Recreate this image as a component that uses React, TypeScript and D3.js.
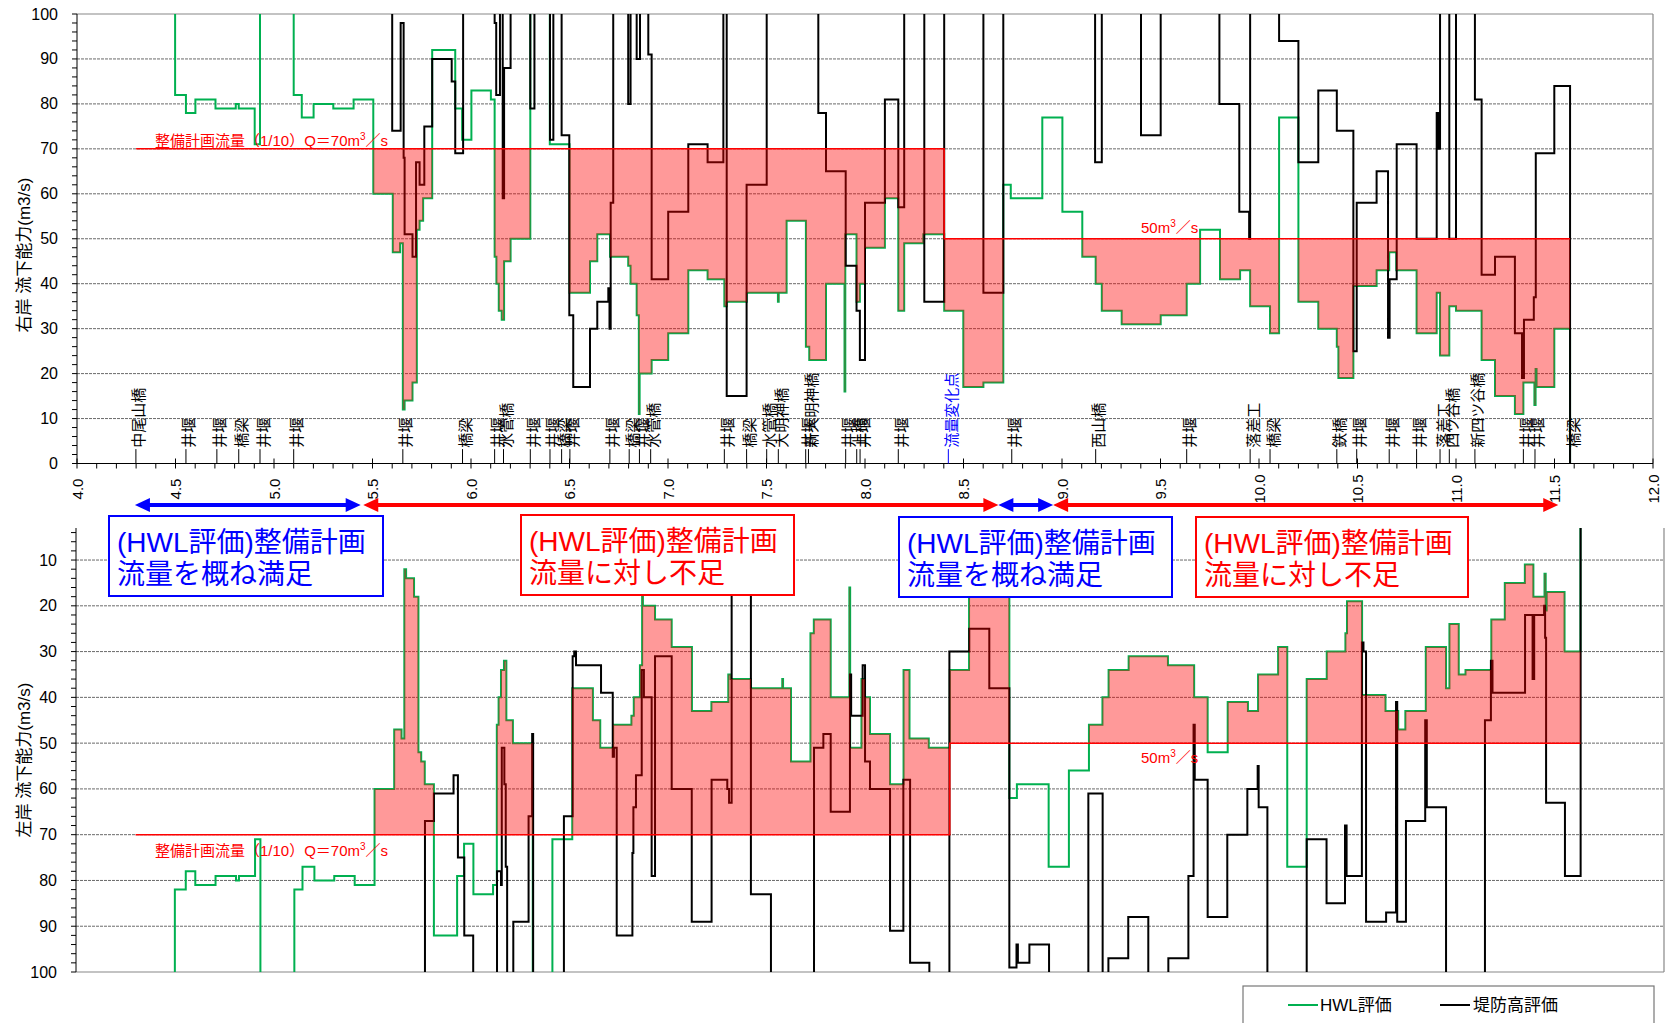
import React from "react";
import * as d3 from "d3";

// step series: [km, value] ; value holds until the next km. 130 = off the chart
type Step = [number, number];

const hwl: Step[] = [
  [4.497, 130], [4.498, 82], [4.553, 78], [4.601, 81], [4.703, 79], [4.806, 80], [4.821, 79],
  [4.902, 71], [4.929, 130], [5.1, 82], [5.141, 77], [5.201, 80], [5.301, 79], [5.404, 81],
  [5.504, 60], [5.603, 47], [5.64, 49], [5.654, 12], [5.663, 14], [5.703, 18], [5.725, 52],
  [5.739, 54], [5.757, 59], [5.803, 92], [5.92, 79], [5.955, 72], [6.002, 83], [6.101, 81],
  [6.12, 46], [6.129, 40], [6.141, 34], [6.156, 32], [6.168, 45], [6.201, 50], [6.301, 130],
  [6.4, 71], [6.5, 38], [6.604, 45], [6.641, 51], [6.706, 46], [6.798, 44], [6.81, 40],
  [6.841, 33], [6.852, 11], [6.856, 20], [6.917, 23], [7.001, 29], [7.103, 43], [7.201, 41],
  [7.286, 35], [7.298, 36], [7.4, 38], [7.558, 36], [7.562, 38], [7.602, 54], [7.7, 26],
  [7.717, 23], [7.802, 40], [7.896, 16], [7.9, 51], [7.957, 36], [7.974, 40], [8.0, 48],
  [8.101, 59], [8.169, 34], [8.199, 49], [8.296, 51], [8.402, 34], [8.499, 17], [8.601, 18],
  [8.702, 62], [8.74, 59], [8.9, 77], [9.002, 56], [9.103, 46], [9.171, 40], [9.202, 34],
  [9.303, 31], [9.501, 33], [9.633, 40], [9.701, 52], [9.802, 41], [9.904, 43], [9.955, 35],
  [10.056, 29], [10.102, 77], [10.2, 36], [10.301, 30], [10.395, 26], [10.403, 19],
  [10.479, 39.5], [10.597, 43], [10.661, 47], [10.697, 43], [10.8, 29], [10.902, 38],
  [10.919, 24], [10.966, 35], [11.0, 34], [11.13, 23], [11.198, 15], [11.299, 11],
  [11.342, 18], [11.398, 13], [11.404, 21], [11.409, 17], [11.499, 30], [11.579, 0],
];

// 右岸 堤防高評価
const rightLevee: Step[] = [
  [5.599, 130], [5.6, 74], [5.643, 98], [5.658, 68], [5.663, 51], [5.703, 46], [5.721, 67],
  [5.739, 62], [5.763, 75], [5.803, 90], [5.902, 85], [5.92, 69], [5.96, 130], [6.12, 98],
  [6.128, 82], [6.147, 130], [6.161, 59], [6.168, 88], [6.201, 130], [6.301, 79], [6.322, 130],
  [6.401, 72], [6.418, 130], [6.46, 73], [6.499, 33], [6.519, 17], [6.604, 30], [6.641, 36],
  [6.697, 39], [6.703, 30], [6.709, 58], [6.722, 130], [6.798, 80], [6.81, 130], [6.841, 90],
  [6.858, 130], [6.9, 91], [6.917, 41], [7.001, 56], [7.103, 71], [7.201, 67], [7.281, 130],
  [7.298, 15], [7.399, 62], [7.501, 130], [7.763, 78], [7.802, 65], [7.902, 44], [7.957, 34],
  [7.974, 23], [8.0, 58], [8.101, 81], [8.169, 57], [8.199, 130], [8.301, 36], [8.402, 130],
  [8.601, 38], [8.702, 130], [9.168, 67], [9.202, 130], [9.401, 73], [9.501, 130], [9.799, 80],
  [9.9, 56], [9.95, 50], [9.955, 130], [10.102, 94], [10.2, 67], [10.301, 83], [10.395, 74],
  [10.479, 25], [10.496, 58], [10.597, 65], [10.655, 28], [10.663, 41], [10.699, 71],
  [10.8, 50], [10.902, 78], [10.912, 70], [10.919, 130], [10.966, 50], [11.0, 130],
  [11.096, 81], [11.13, 42], [11.198, 46], [11.299, 29], [11.335, 19], [11.345, 32],
  [11.395, 37], [11.405, 69], [11.499, 84], [11.579, 0],
];

// 左岸 堤防高評価
const leftLevee: Step[] = [
  [5.757, 130], [5.758, 67], [5.803, 61], [5.902, 57], [5.924, 75], [5.956, 92], [6.001, 130],
  [6.121, 78], [6.141, 81], [6.145, 51], [6.158, 59], [6.165, 77], [6.172, 130], [6.203, 89],
  [6.28, 66], [6.298, 48], [6.303, 130], [6.458, 66], [6.502, 31], [6.51, 30], [6.519, 33],
  [6.645, 39], [6.704, 53], [6.71, 51], [6.724, 92], [6.803, 74], [6.808, 64], [6.821, 57],
  [6.85, 34], [6.861, 40], [6.9, 79], [6.917, 31], [7.001, 60], [7.102, 89], [7.202, 58],
  [7.281, 60], [7.29, 63], [7.303, 0], [7.4, 83], [7.501, 130], [7.718, 51], [7.765, 48],
  [7.802, 65], [7.899, 35], [7.905, 44], [7.963, 33], [7.975, 54], [8.0, 60], [8.101, 91],
  [8.168, 58], [8.202, 98], [8.299, 130], [8.4, 30], [8.5, 25], [8.601, 38], [8.702, 99],
  [8.738, 94], [8.745, 98], [8.803, 94], [8.902, 130], [9.1, 61], [9.172, 130], [9.201, 97],
  [9.301, 88], [9.402, 130], [9.503, 97], [9.604, 79], [9.63, 46], [9.636, 58], [9.701, 88],
  [9.8, 70], [9.901, 60], [9.953, 55], [9.958, 64], [10.002, 130], [10.2, 71], [10.3, 85],
  [10.393, 68], [10.401, 79], [10.478, 28], [10.486, 30], [10.499, 89], [10.6, 87],
  [10.65, 41], [10.656, 89], [10.7, 67], [10.797, 45], [10.805, 64], [10.902, 130],
  [11.098, 45], [11.128, 32], [11.136, 39], [11.3, 22], [11.338, 36], [11.346, 22],
  [11.396, 20], [11.401, 27], [11.406, 63], [11.501, 79], [11.58, 0],
];

// 整備計画流量
const planFlow: Step[] = [[4.3, 70], [8.402, 50], [11.579, 50]];

const xTickLabels = ["4.0", "4.5", "5.0", "5.5", "6.0", "6.5", "7.0", "7.5", "8.0", "8.5", "9.0", "9.5", "10.0", "10.5", "11.0", "11.5", "12.0"];
const topYTicks = [0, 10, 20, 30, 40, 50, 60, 70, 80, 90, 100];
const bottomYTicks = [10, 20, 30, 40, 50, 60, 70, 80, 90, 100];

const structures: [number, string][] = [
  [4.299, "中尾山橋"], [4.553, "井堰"], [4.71, "井堰"], [4.821, "橋梁"], [4.929, "井堰"],
  [5.1, "井堰"], [5.654, "井堰"], [5.957, "橋梁"], [6.12, "井堰"], [6.165, "水管橋"],
  [6.301, "井堰"], [6.401, "井堰"], [6.46, "橋梁"], [6.502, "井堰"], [6.705, "井堰"],
  [6.803, "橋梁"], [6.855, "井堰"], [6.912, "水管橋"], [7.286, "井堰"], [7.399, "橋梁"],
  [7.501, "水管橋"], [7.56, "大明神橋"], [7.699, "井堰"], [7.713, "新大明神橋"],
  [7.902, "井堰"], [7.958, "上橋"], [7.975, "井堰"], [8.169, "井堰"], [8.423, "流量変化点"],
  [8.745, "井堰"], [9.171, "西山橋"], [9.633, "井堰"], [9.955, "落差工"], [10.056, "橋梁"],
  [10.395, "鉄橋"], [10.496, "井堰"], [10.661, "井堰"], [10.8, "井堰"], [10.919, "落差工"],
  [10.966, "四ツ谷橋"], [11.096, "新四ツ谷橋"], [11.342, "井堰"], [11.401, "井堰"], [11.579, "橋梁"],
];
const changePoint = "流量変化点";

// evaluation ranges between the panels
const ranges: [number, number, "ok" | "short"][] = [
  [4.294, 5.44, "ok"], [5.453, 8.677, "short"], [8.677, 8.955, "ok"], [8.955, 11.519, "short"],
];

const FONT = "'Liberation Sans', 'Noto Sans CJK JP', sans-serif";
const GREEN = "#00b050";
const BLUE = "#0000ff";
const RED = "#ff0000";

function stepValue(steps: Step[], x: number) {
  let v = steps[0][1];
  for (const [sx, sv] of steps) {
    if (sx <= x) v = sv;
    else break;
  }
  return v;
}

type FillPt = { x: number; t: number; g: number };

function shortfall(): FillPt[] {
  const t0 = planFlow[0][0];
  const t1 = planFlow[planFlow.length - 1][0];
  const xs = Array.from(new Set([...hwl.map((d) => d[0]), ...planFlow.map((d) => d[0])]))
    .filter((x) => x >= t0 && x <= t1)
    .sort((a, b) => a - b);
  return xs.map((x, i) => {
    const t = stepValue(planFlow, x);
    const g = i === xs.length - 1 ? t : Math.min(stepValue(hwl, x), t);
    return { x, t, g };
  });
}

function Panel({ id, x, y, levee, yTicks, minor, bank, labelY, flipLabels }: {
  id: string; x: d3.ScaleLinear<number, number>; y: d3.ScaleLinear<number, number>;
  levee: Step[]; yTicks: number[]; minor: number[]; bank: string; labelY: number; flipLabels: boolean;
}) {
  const [x0, x1] = x.range();
  const [yA, yB] = y.range();
  const top = Math.min(yA, yB);
  const bot = Math.max(yA, yB);
  const line = d3.line<Step>().x((d) => x(d[0])).y((d) => y(d[1])).curve(d3.curveStepAfter);
  const area = d3.area<FillPt>().x((d) => x(d.x)).y0((d) => y(d.t)).y1((d) => y(d.g)).curve(d3.curveStepAfter);
  const fill = shortfall();
  const grid = yTicks.filter((v) => v !== 0 && v !== 100);
  const lbl70 = flipLabels ? y(70) + 21 : y(70) - 3;
  const lbl50 = flipLabels ? y(50) + 20 : y(50) - 6;
  return (
    <g>
      <defs>
        <clipPath id={id}>
          <rect x={x0} y={top} width={x1 - x0} height={bot - top} />
        </clipPath>
      </defs>
      {grid.map((v) => (
        <line key={v} x1={x0} x2={x1} y1={y(v)} y2={y(v)} stroke="#444" strokeWidth={0.8} strokeDasharray="3,1" />
      ))}
      <line x1={x0} x2={x1} y1={y(100)} y2={y(100)} stroke="#888" strokeWidth={1.2} />
      <line x1={x1} x2={x1} y1={top} y2={bot} stroke="#888" strokeWidth={1.2} />
      <line x1={x0} x2={x0} y1={top} y2={bot} stroke="#000" strokeWidth={1} />
      {minor.map((v) => (
        <line key={v} x1={x0 - 5} x2={x0} y1={y(v)} y2={y(v)} stroke="#000" strokeWidth={1} />
      ))}
      {yTicks.map((v) => (
        <text key={v} x={x0 - 19} y={y(v)} textAnchor="end" dominantBaseline="central" fontSize={16} fontFamily={FONT}>{v}</text>
      ))}
      <text transform={`translate(24,${labelY}) rotate(-90)`} textAnchor="middle" dominantBaseline="central" fontSize={17} fontFamily={FONT}>
        {bank} 流下能力(m3/s)
      </text>
      <g clipPath={`url(#${id})`}>
        <path d={line(hwl) || ""} fill="none" stroke={GREEN} strokeWidth={2} />
        <path d={line(levee) || ""} fill="none" stroke="#000" strokeWidth={2} />
        <path d={area(fill) || ""} fill="rgba(255,0,0,0.4)" stroke="none" />
        <path d={line(planFlow) || ""} fill="none" stroke={RED} strokeWidth={1.5} />
      </g>
      <text x={155} y={lbl70} fontSize={15} fill={RED} fontFamily={FONT}>
        整備計画流量（1/10）Q＝70m<tspan dy={-6} fontSize={10}>3</tspan><tspan dy={6}>／s</tspan>
      </text>
      <text x={1141} y={lbl50} fontSize={15} fill={RED} fontFamily={FONT}>
        50m<tspan dy={-6} fontSize={10}>3</tspan><tspan dy={6}>／s</tspan>
      </text>
    </g>
  );
}

function Arrow({ a, b, yy, color }: { a: number; b: number; yy: number; color: string }) {
  const h = 15;
  const w = 7;
  return (
    <g fill={color}>
      <line x1={a + h - 2} x2={b - h + 2} y1={yy} y2={yy} stroke={color} strokeWidth={4} />
      <polygon points={`${a},${yy} ${a + h},${yy - w} ${a + h},${yy + w}`} />
      <polygon points={`${b},${yy} ${b - h},${yy - w} ${b - h},${yy + w}`} />
    </g>
  );
}

export default function App() {
  const xTop = d3.scaleLinear().domain([4, 12]).range([77, 1653]);
  const xBot = d3.scaleLinear().domain([4, 12]).range([76, 1664]);
  const yTop = d3.scaleLinear().domain([0, 100]).range([463.5, 14]);
  const yBot = d3.scaleLinear().domain([3, 100]).range([528, 972]);

  const minorKm = d3.range(40, 121).map((d) => d / 10);
  const axisY = yTop(0);

  const boxes = [
    { x: 109, y: 516, w: 274, kind: "ok" },
    { x: 521, y: 515, w: 273, kind: "short" },
    { x: 899, y: 517, w: 273, kind: "ok" },
    { x: 1196, y: 517, w: 272, kind: "short" },
  ];

  return (
    <svg width={1671} height={1023} style={{ position: "absolute", left: 0, top: 0, background: "#fff" }}>
      <rect width={1671} height={1023} fill="#fff" />
      <Panel id="clipTop" x={xTop} y={yTop} levee={rightLevee} yTicks={topYTicks}
        minor={d3.range(0, 101, 2)} bank="右岸" labelY={255} flipLabels={false} />
      <Panel id="clipBot" x={xBot} y={yBot} levee={leftLevee} yTicks={bottomYTicks}
        minor={d3.range(4, 101, 2)} bank="左岸" labelY={760} flipLabels={true} />

      {/* km axis of the upper panel */}
      <line x1={xTop(4)} x2={xTop(12)} y1={axisY} y2={axisY} stroke="#000" strokeWidth={1.2} />
      {minorKm.map((k, i) => (
        <line key={k} x1={xTop(k)} x2={xTop(k)} y1={i % 5 === 0 ? axisY - 5 : axisY} y2={axisY + 5} stroke="#000" strokeWidth={1} />
      ))}
      {xTickLabels.map((t) => (
        <text key={t} transform={`translate(${xTop(+t)},489) rotate(-90)`} textAnchor="middle" dominantBaseline="central" fontSize={15} fontFamily={FONT}>{t}</text>
      ))}

      {structures.map(([k, name], i) => {
        const c = name === changePoint ? BLUE : "#000";
        return (
          <g key={i}>
            <line x1={xTop(k)} x2={xTop(k)} y1={yTop(3.2)} y2={axisY} stroke={c} strokeWidth={1} />
            <text transform={`translate(${xTop(k) + 3},${yTop(3.5)}) rotate(-90)`} dominantBaseline="central" fontSize={15} fill={c} fontFamily={FONT}>{name}</text>
          </g>
        );
      })}

      {ranges.map(([a, b, kind], i) => (
        <Arrow key={i} a={xTop(a)} b={xTop(b)} yy={505} color={kind === "ok" ? BLUE : RED} />
      ))}

      {boxes.map((b, i) => {
        const c = b.kind === "ok" ? BLUE : RED;
        return (
          <g key={i}>
            <rect x={b.x} y={b.y} width={b.w} height={80} fill="#fff" stroke={c} strokeWidth={2} />
            <text x={b.x + 8} y={b.y + 36} fontSize={28} fill={c} fontFamily={FONT}>(HWL評価)整備計画</text>
            <text x={b.x + 8} y={b.y + 68} fontSize={28} fill={c} fontFamily={FONT}>
              {b.kind === "ok" ? "流量を概ね満足" : "流量に対し不足"}
            </text>
          </g>
        );
      })}

      <g>
        <rect x={1243} y={986} width={411} height={60} fill="#fff" stroke="#777" strokeWidth={1.2} />
        <line x1={1288} x2={1318} y1={1005} y2={1005} stroke={GREEN} strokeWidth={2} />
        <text x={1320} y={1005} dominantBaseline="central" fontSize={17} fontFamily={FONT}>HWL評価</text>
        <line x1={1440} x2={1470} y1={1005} y2={1005} stroke="#000" strokeWidth={2} />
        <text x={1473} y={1005} dominantBaseline="central" fontSize={17} fontFamily={FONT}>堤防高評価</text>
      </g>
    </svg>
  );
}
